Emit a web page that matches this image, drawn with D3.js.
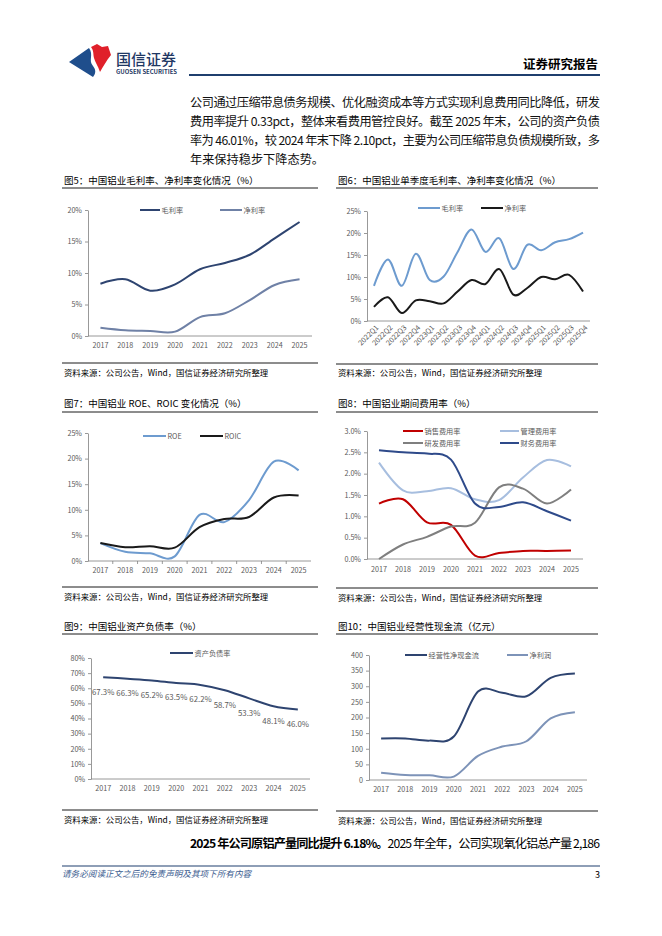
<!DOCTYPE html>
<html>
<head>
<meta charset="utf-8">
<script src="https://cdn.jsdelivr.net/npm/d3@7"></script>
<style>
body { margin: 0; background: #fff; }
text { font-family: "Noto Sans CJK SC", "Noto Sans", sans-serif; }
</style>
</head>
<body>
<div id="page"></div>
<script>
'use strict';

// ---- data ----
var years = ['2017', '2018', '2019', '2020', '2021', '2022', '2023', '2024', '2025'];
var quarters = ['2022Q1', '2022Q2', '2022Q3', '2022Q4', '2023Q1', '2023Q2', '2023Q3', '2023Q4',
    '2024Q1', '2024Q2', '2024Q3', '2024Q4', '2025Q1', '2025Q2', '2025Q3', '2025Q4'];

var grossMargin = [8.3, 9.0, 7.2, 8.2, 10.6, 11.6, 12.9, 15.5, 18.1];
var netMargin = [1.3, 0.9, 0.8, 0.7, 3.0, 3.6, 5.7, 8.1, 9.0];

var qGrossMargin = [8.0, 14.0, 8.0, 15.3, 9.3, 10.1, 15.7, 20.8, 15.7, 18.8, 11.8, 17.3, 16.1, 17.9, 18.6, 20.1];
var qNetMargin = [3.2, 5.4, 1.8, 4.7, 4.5, 4.0, 6.7, 9.3, 8.4, 11.8, 6.0, 7.5, 10.0, 9.5, 10.5, 6.7];

var roe = [3.5, 1.8, 1.5, 0.9, 9.0, 7.6, 11.9, 19.4, 17.7];
var roic = [3.5, 2.7, 2.9, 2.6, 6.6, 8.2, 8.6, 12.4, 12.8];

var salesRate = [1.30, 1.40, 0.86, 0.80, 0.08, 0.14, 0.19, 0.19, 0.20];
var adminRate = [2.26, 1.61, 1.59, 1.66, 1.40, 1.38, 1.91, 2.32, 2.17];
var rdRate = [0.0, 0.34, 0.52, 0.76, 0.85, 1.68, 1.65, 1.30, 1.63];
var finRate = [2.55, 2.50, 2.47, 2.33, 1.30, 1.22, 1.33, 1.12, 0.90];

var debtRatio = [67.3, 66.3, 65.2, 63.5, 62.2, 58.7, 53.3, 48.1, 46.0];

var opCashFlow = [133, 133, 126, 139, 283, 279, 268, 327, 341];
var netProfit = [23, 16, 15, 11, 77, 107, 124, 197, 217];

var ticks20 = [0, 5, 10, 15, 20];
var ticks25 = [0, 5, 10, 15, 20, 25];
var ticks3 = [0, 0.5, 1.0, 1.5, 2.0, 2.5, 3.0];
var ticks80 = [0, 10, 20, 30, 40, 50, 60, 70, 80];
var ticks400 = [0, 50, 100, 150, 200, 250, 300, 350, 400];

var source = '资料来源：公司公告，Wind，国信证券经济研究所整理';

var svg = d3.select('#page')
    .append('svg')
    .attr('width', 662)
    .attr('height', 936);

// ---- header ----
var logo = svg.append('g');
logo.append('path')
    .attr('d', 'M69,62 L89,48 C94,55 88,60 93,66 C96,70 96,73 93,77 Z')
    .attr('fill', '#1F4E8C');
logo.append('path')
    .attr('d', 'M91,47 L97,44 L102,47 L108,46 L111,55 C106,61 103,67 100,72 C98,66 95,62 94,58 C93,54 94,51 91,47 Z')
    .attr('fill', '#E0202A');
logo.append('text')
    .attr('x', 116).attr('y', 58)
    .attr('dominant-baseline', 'central')
    .attr('font-size', 15).attr('font-weight', 500)
    .attr('fill', '#1F3864')
    .text('国信证券');
logo.append('text')
    .attr('x', 116).attr('y', 71.5)
    .attr('dominant-baseline', 'central')
    .attr('font-size', 5.6).attr('font-weight', 700)
    .attr('textLength', 61).attr('lengthAdjust', 'spacingAndGlyphs')
    .attr('fill', '#1F3864')
    .text('GUOSEN SECURITIES');

svg.append('text')
    .attr('x', 598).attr('y', 63)
    .attr('text-anchor', 'end')
    .attr('dominant-baseline', 'central')
    .attr('font-size', 12.5).attr('font-weight', 700)
    .text('证券研究报告');

svg.append('line')
    .attr('x1', 189).attr('x2', 600)
    .attr('y1', 75).attr('y2', 75)
    .attr('stroke', '#1F3F6E')
    .attr('stroke-width', 2);

// ---- body text ----
var paragraph = [
    '公司通过压缩带息债务规模、优化融资成本等方式实现利息费用同比降低，研发',
    '费用率提升 0.33pct，整体来看费用管控良好。截至 2025 年末，公司的资产负债',
    '率为 46.01%，较 2024 年末下降 2.10pct，主要为公司压缩带息负债规模所致，多',
    '年来保持稳步下降态势。'
];
paragraph.forEach(function (line, i) {
    var t = svg.append('text')
        .attr('x', 190).attr('y', 102 + i * 19)
        .attr('dominant-baseline', 'central')
        .attr('font-size', 12.2)
        .attr('fill', '#111')
        .text(line);
    if (i < paragraph.length - 1) {
        t.attr('textLength', 410).attr('lengthAdjust', 'spacing');
    }
});

// ---- chart helper ----
function drawChart(o) {
    var g = svg.append('g');

    g.append('text')
        .attr('x', o.left + 2).attr('y', o.titleY)
        .attr('dominant-baseline', 'central')
        .attr('font-size', 9.5)
        .text(o.title);
    g.append('line')
        .attr('x1', o.left).attr('x2', o.right)
        .attr('y1', o.ruleY).attr('y2', o.ruleY)
        .attr('stroke', '#000').attr('stroke-width', 0.9);

    var x = d3.scaleBand().domain(o.cats).range([o.x0, o.x1]);
    var y = d3.scaleLinear().domain([0, o.yMax]).range([o.y1, o.y0]);
    var cx = function (c) { return x(c) + x.bandwidth() / 2; };

    var yAxis = g.append('g')
        .attr('transform', 'translate(' + o.x0 + ',0)')
        .call(d3.axisLeft(y).tickValues(o.yTicks).tickSize(3).tickSizeOuter(0).tickPadding(3).tickFormat(o.fmt));
    yAxis.selectAll('path, line').attr('stroke', '#7F7F7F').attr('stroke-width', 0.8);
    yAxis.selectAll('text')
        .attr('font-size', 7.2)
        .attr('fill', '#595959')
        .style('font-family', '"Noto Sans CJK SC", sans-serif');

    g.append('line')
        .attr('x1', o.x0).attr('x2', o.x1)
        .attr('y1', o.y1).attr('y2', o.y1)
        .attr('stroke', '#7F7F7F').attr('stroke-width', 0.8);

    if (o.catTicks) {
        o.cats.slice(1).forEach(function (c) {
            g.append('line')
                .attr('x1', x(c)).attr('x2', x(c))
                .attr('y1', o.y1).attr('y2', o.y1 + 3)
                .attr('stroke', '#7F7F7F').attr('stroke-width', 0.8);
        });
    }

    o.cats.forEach(function (c) {
        var t = g.append('text')
            .attr('font-size', 7.2)
            .attr('fill', '#595959')
            .text(c);
        if (o.rotate) {
            t.attr('text-anchor', 'end')
                .attr('transform', 'translate(' + (cx(c) + 3) + ',' + (o.y1 + 5) + ') rotate(-45)')
                .attr('dominant-baseline', 'central');
        } else {
            t.attr('x', cx(c)).attr('y', o.xLabelY)
                .attr('text-anchor', 'middle')
                .attr('dominant-baseline', 'central');
        }
    });

    var line = d3.line()
        .x(function (d, i) { return cx(o.cats[i]); })
        .y(function (d) { return y(d); })
        .curve(d3.curveCardinal.tension(0));

    o.series.forEach(function (s) {
        g.append('path')
            .attr('d', line(s.values))
            .attr('fill', 'none')
            .attr('stroke', s.color)
            .attr('stroke-width', 2);
        g.append('line')
            .attr('x1', s.lx[0]).attr('x2', s.lx[1])
            .attr('y1', s.ly).attr('y2', s.ly)
            .attr('stroke', s.color).attr('stroke-width', 2);
        g.append('text')
            .attr('x', s.lx[1] + 1.5).attr('y', s.ly)
            .attr('dominant-baseline', 'central')
            .attr('font-size', 7.2)
            .attr('fill', '#595959')
            .text(s.name);
        if (s.labels) {
            s.values.forEach(function (v, i) {
                g.append('text')
                    .attr('x', cx(o.cats[i])).attr('y', y(v) + 14)
                    .attr('text-anchor', 'middle')
                    .attr('dominant-baseline', 'central')
                    .attr('font-size', 7.8)
                    .attr('fill', '#595959')
                    .text(v.toFixed(1) + '%');
            });
        }
    });

    g.append('line')
        .attr('x1', o.left).attr('x2', o.right)
        .attr('y1', o.srcLineY).attr('y2', o.srcLineY)
        .attr('stroke', '#000').attr('stroke-width', 0.9);
    g.append('text')
        .attr('x', o.left + 2).attr('y', o.srcY)
        .attr('dominant-baseline', 'central')
        .attr('font-size', 8.4)
        .text(source);
}

var pct = function (d) { return d + '%'; };

// 图5
drawChart({
    left: 62, right: 318, titleY: 180, ruleY: 188,
    title: '图5：中国铝业毛利率、净利率变化情况（%）',
    x0: 88, x1: 312, y0: 210, y1: 336, yMax: 20, yTicks: ticks20, fmt: pct,
    cats: years, xLabelY: 345,
    series: [
        { name: '毛利率', values: grossMargin, color: '#2E4470', lx: [140, 160], ly: 210 },
        { name: '净利率', values: netMargin, color: '#6F81A6', lx: [220, 242], ly: 210 }
    ],
    srcLineY: 363, srcY: 372
});

// 图6
drawChart({
    left: 336, right: 598, titleY: 180, ruleY: 188,
    title: '图6：中国铝业单季度毛利率、净利率变化情况（%）',
    x0: 367, x1: 590, y0: 211, y1: 321, yMax: 25, yTicks: ticks25, fmt: pct,
    cats: quarters, rotate: true,
    series: [
        { name: '毛利率', values: qGrossMargin, color: '#6D9BCF', lx: [418, 440], ly: 208 },
        { name: '净利率', values: qNetMargin, color: '#1A1A1A', lx: [481, 503], ly: 208 }
    ],
    srcLineY: 364, srcY: 372
});

// 图7
drawChart({
    left: 62, right: 318, titleY: 403, ruleY: 412,
    title: '图7：中国铝业 ROE、ROIC 变化情况（%）',
    x0: 88, x1: 311, y0: 433, y1: 561, yMax: 25, yTicks: ticks25, fmt: pct,
    cats: years, xLabelY: 570, catTicks: true,
    series: [
        { name: 'ROE', values: roe, color: '#6D9BCF', lx: [143, 166], ly: 436 },
        { name: 'ROIC', values: roic, color: '#1A1A1A', lx: [200, 223], ly: 436 }
    ],
    srcLineY: 587, srcY: 596
});

// 图8
drawChart({
    left: 336, right: 598, titleY: 403, ruleY: 412,
    title: '图8：中国铝业期间费用率（%）',
    x0: 367, x1: 583, y0: 431, y1: 559, yMax: 3, yTicks: ticks3,
    fmt: function (d) { return d.toFixed(1) + '%'; },
    cats: years, xLabelY: 569,
    series: [
        { name: '销售费用率', values: salesRate, color: '#C00000', lx: [403, 423], ly: 431 },
        { name: '管理费用率', values: adminRate, color: '#A7BEDF', lx: [500, 519], ly: 431 },
        { name: '研发费用率', values: rdRate, color: '#7F7F7F', lx: [403, 423], ly: 443 },
        { name: '财务费用率', values: finRate, color: '#2E4A8A', lx: [500, 519], ly: 443 }
    ],
    srcLineY: 588, srcY: 597
});

// 图9
drawChart({
    left: 62, right: 318, titleY: 626, ruleY: 634,
    title: '图9：中国铝业资产负债率（%）',
    x0: 91, x1: 310, y0: 658, y1: 779, yMax: 80, yTicks: ticks80, fmt: pct,
    cats: years, xLabelY: 788,
    series: [
        { name: '资产负债率', values: debtRatio, color: '#2E4470', lx: [170, 193], ly: 653, labels: true }
    ],
    srcLineY: 810, srcY: 819
});

// 图10
drawChart({
    left: 336, right: 598, titleY: 626, ruleY: 634,
    title: '图10：中国铝业经营性现金流（亿元）',
    x0: 369, x1: 587, y0: 655, y1: 780, yMax: 400, yTicks: ticks400, fmt: function (d) { return d; },
    cats: years, xLabelY: 789,
    series: [
        { name: '经营性净现金流', values: opCashFlow, color: '#2E4470', lx: [405, 427], ly: 655 },
        { name: '净利润', values: netProfit, color: '#7D93B8', lx: [507, 528], ly: 655 }
    ],
    srcLineY: 811, srcY: 820
});

// ---- closing text and footer ----
var closing = svg.append('text')
    .attr('x', 190).attr('y', 843)
    .attr('dominant-baseline', 'central')
    .attr('font-size', 12.2)
    .attr('textLength', 410).attr('lengthAdjust', 'spacing');
closing.append('tspan').attr('font-weight', 700).text('2025 年公司原铝产量同比提升 6.18%。');
closing.append('tspan').text('2025 年全年，公司实现氧化铝总产量 2,186');

svg.append('line')
    .attr('x1', 62).attr('x2', 600)
    .attr('y1', 866).attr('y2', 866)
    .attr('stroke', '#1F3F6E').attr('stroke-width', 1.2);
svg.append('text')
    .attr('x', 62).attr('y', 873)
    .attr('dominant-baseline', 'central')
    .attr('font-size', 8.6).attr('font-style', 'italic')
    .attr('fill', '#3B5C8F')
    .text('请务必阅读正文之后的免责声明及其项下所有内容');
svg.append('text')
    .attr('x', 600).attr('y', 874)
    .attr('text-anchor', 'end')
    .attr('dominant-baseline', 'central')
    .attr('font-size', 9)
    .text('3');
</script>
</body>
</html>
